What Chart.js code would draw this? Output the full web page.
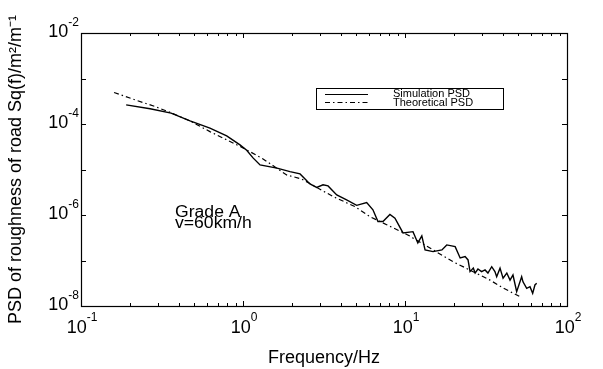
<!DOCTYPE html>
<html><head><meta charset="utf-8">
<script src="https://cdn.jsdelivr.net/npm/chart.js@4"></script>
<style>html,body{margin:0;padding:0;background:#fff}#wrap{width:603px;height:369px;position:relative}</style>
</head><body><div id="wrap"><canvas id="c" width="603" height="369"></canvas></div>
<script>
// ---- data ----
const simFreq = [0.190,0.267,0.360,0.471,0.625,0.793,0.958,1.054,1.153,1.274,1.622,1.95,2.25,2.59,2.85,3.12,3.35,3.79,4.36,5.03,5.80,6.34,6.81,7.31,8.07,8.67,9.72,11.2,12.0,12.7,13.3,14.9,16.9,18.1,20.4,21.9,23.5,24.5,25.2,26.4,27.1,28.2,29.7,31.2,32.5,34.3,35.9,36.8,38.6,40.3,42.5,44.5,46.4,48.9,52.5,53.5,56.4,59.1,61.4,63.4,65.0];
const simPsd = [2.64e-4,2.16e-4,1.74e-4,1.17e-4,8.13e-5,5.5e-5,3.48e-5,2.64e-5,1.80e-5,1.26e-5,1.07e-5,9.0e-6,8.0e-6,4.83e-6,4.05e-6,4.6e-6,4.36e-6,2.77e-6,2.15e-6,1.63e-6,1.88e-6,1.30e-6,7.2e-7,7.2e-7,1.03e-6,8.5e-7,4.04e-7,4.3e-7,2.43e-7,3.47e-7,1.71e-7,1.57e-7,1.71e-7,2.2e-7,2.02e-7,1.14e-7,1.22e-7,1.03e-7,5.7e-8,6.8e-8,5.3e-8,6.5e-8,5.7e-8,6.2e-8,5.3e-8,7.3e-8,5.7e-8,4.4e-8,6.8e-8,4.1e-8,5.3e-8,3.7e-8,4.8e-8,2.07e-8,4.4e-8,3.4e-8,2.45e-8,2.66e-8,1.9e-8,2.9e-8,3.15e-8];
const theoFreq = [0.160,0.215,0.286,0.360,0.471,0.625,0.793,1.0,1.33,1.86,2.30,3.60,4.91,6.08,7.71,10.4,19.8,33.5,40.3,51.3];
const theoPsd = [4.93e-4,3.40e-4,2.43e-4,1.76e-4,1.17e-4,6.8e-5,4.49e-5,2.99e-5,1.71e-5,7.6e-6,6.2e-6,2.54e-6,1.53e-6,9.2e-7,6.1e-7,3.65e-7,9.4e-8,3.7e-8,2.5e-8,1.6e-8];
const xTickValues = [0.1,1,10,100];
const xTickExponents = ['-1','0','1','2'];
const yTickValues = [1e-8,1e-6,1e-4,1e-2];
const yTickExponents = ['-8','-6','-4','-2'];
const seriesNames = ['Simulation PSD','Theoretical PSD'];
const noteLines = ['Grade A','v=60km/h'];
const xTitle = 'Frequency/Hz';
const yTitle = 'PSD of roughness of road Sq(f)/m\u00B2/m\u207B\u00B9';

const FAM = '"Liberation Sans", Arial, Helvetica, sans-serif';
const theoDash = [5,3,1.5,3];

const overlay = {
  id: 'overlay',
  afterDraw(chart) {
    const ctx = chart.ctx, a = chart.chartArea, xs = chart.scales.x, ys = chart.scales.y;
    ctx.save();
    ctx.strokeStyle = '#000'; ctx.fillStyle = '#000'; ctx.lineWidth = 1.2;
    // frame
    ctx.strokeRect(Math.round(a.left)+0.5, Math.round(a.top)+0.5, Math.round(a.right-a.left), Math.round(a.bottom-a.top));
    ctx.lineWidth = 1;
    // x ticks (inward, bottom and top)
    ctx.beginPath();
    for (let d=-1; d<=2; d++) {
      for (let m=1; m<=9; m++) {
        const v = m*Math.pow(10,d);
        if (v > 100.0001) break;
        const px = Math.round(xs.getPixelForValue(v))+0.5;
        const len = m===1 ? 5 : 3;
        ctx.moveTo(px, a.bottom); ctx.lineTo(px, a.bottom-len);
        ctx.moveTo(px, a.top); ctx.lineTo(px, a.top+len);
      }
    }
    for (let e=-8; e<=-2; e++) {
      const py = Math.round(ys.getPixelForValue(Math.pow(10,e)))+0.5;
      ctx.moveTo(a.left, py); ctx.lineTo(a.left+5, py);
      ctx.moveTo(a.right, py); ctx.lineTo(a.right-5, py);
    }
    ctx.stroke();
    // tick labels with superscripts
    const big = '18px '+FAM, small = '12px '+FAM;
    ctx.textBaseline = 'alphabetic';
    yTickValues.forEach((v,i)=>{
      const py = ys.getPixelForValue(v);
      ctx.font = small; const ew = ctx.measureText(yTickExponents[i]).width;
      ctx.textAlign = 'right';
      ctx.fillText(yTickExponents[i], 79, py-7);
      ctx.font = big;
      ctx.fillText('10', 79-ew, py+4);
    });
    xTickValues.forEach((v,i)=>{
      const px = xs.getPixelForValue(v);
      ctx.font = big; const bw = ctx.measureText('10').width;
      ctx.font = small; const ew = ctx.measureText(xTickExponents[i]).width;
      const x0 = px - (bw+ew)/2 + 1;
      ctx.textAlign = 'left';
      ctx.font = big; ctx.fillText('10', x0, 333);
      ctx.font = small; ctx.fillText(xTickExponents[i], x0+bw, 321);
    });
    // legend
    ctx.lineWidth = 1;
    ctx.strokeRect(316.5, 88.5, 187, 21);
    ctx.beginPath(); ctx.moveTo(325,94.5); ctx.lineTo(368,94.5); ctx.stroke();
    ctx.setLineDash(theoDash);
    ctx.beginPath(); ctx.moveTo(325,102.5); ctx.lineTo(368,102.5); ctx.stroke();
    ctx.setLineDash([]);
    ctx.font = '11px '+FAM; ctx.textAlign='left'; ctx.textBaseline='middle';
    ctx.fillText(seriesNames[0], 393, 94);
    ctx.fillText(seriesNames[1], 393, 103);
    // note text
    ctx.textBaseline = 'alphabetic';
    ctx.font = '16px '+FAM;
    noteLines.forEach((t,i)=>{
      ctx.save(); ctx.translate(175, 217+i*10.5); ctx.scale(1.1,1); ctx.fillText(t,0,0); ctx.restore();
    });
    ctx.restore();
  }
};

new Chart(document.getElementById('c'), {
  type: 'scatter',
  data: {
    datasets: [
      { label: seriesNames[0], data: simFreq.map((f,i)=>({x:f,y:simPsd[i]})), showLine:true, borderColor:'#000', backgroundColor:'#000', borderWidth:1.4, pointRadius:0, tension:0 },
      { label: seriesNames[1], data: theoFreq.map((f,i)=>({x:f,y:theoPsd[i]})), showLine:true, borderColor:'#000', backgroundColor:'#000', borderWidth:1.2, borderDash: theoDash, pointRadius:0, tension:0 }
    ]
  },
  options: {
    responsive:false, animation:false, devicePixelRatio:1,
    layout:{ padding:{ left:5, right:36, top:33, bottom:0 } },
    plugins:{ legend:{display:false}, tooltip:{enabled:false} },
    scales:{
      x:{ type:'logarithmic', min:0.1, max:100,
          ticks:{display:false}, grid:{display:false, drawTicks:false}, border:{display:false},
          title:{display:true, text:xTitle, color:'#000', font:{size:18, family:FAM}, padding:{top:0,bottom:0}},
          afterFit(s){ s.height = 63; } },
      y:{ type:'logarithmic', min:1e-8, max:1e-2,
          ticks:{display:false}, grid:{display:false, drawTicks:false}, border:{display:false},
          title:{display:true, text:yTitle, color:'#000', font:{size:18, family:FAM}, padding:{top:0,bottom:0}},
          afterFit(s){ s.width = 76; } }
    }
  },
  plugins:[overlay]
});
</script></body></html>
